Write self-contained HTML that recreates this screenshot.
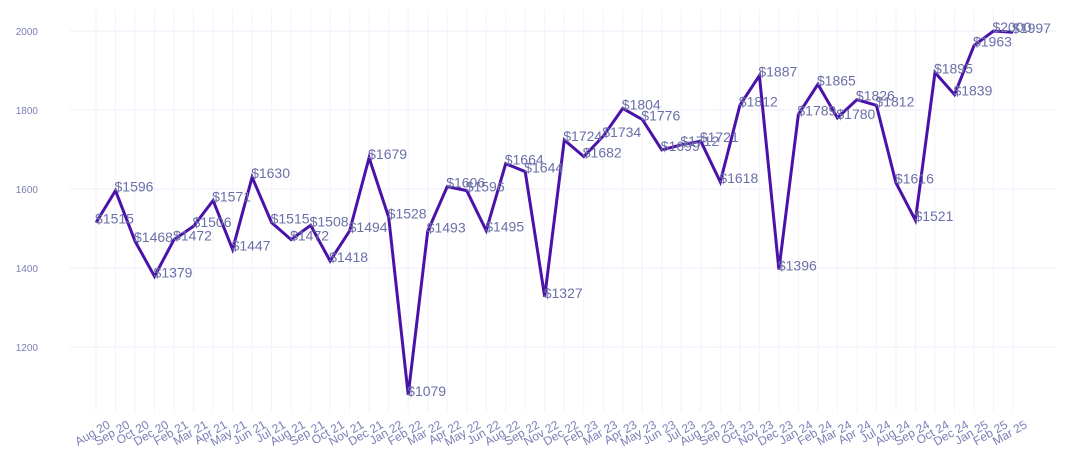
<!DOCTYPE html>
<html><head><meta charset="utf-8"><style>
body{margin:0;background:#fff;}
svg{display:block;font-family:"Liberation Sans",sans-serif;}
</style></head><body>
<svg id="chart" width="1070" height="465" viewBox="0 0 1070 465">
<g id="grid"></g>
<g id="yaxis"></g>
<g id="xaxis"></g>
<g id="series"></g>
</svg>
<script>
const categories=["Aug 20","Sep 20","Oct 20","Dec 20","Feb 21","Mar 21","Apr 21","May 21","Jun 21","Jul 21","Aug 21","Sep 21","Oct 21","Nov 21","Dec 21","Jan 22","Feb 22","Mar 22","Apr 22","May 22","Jun 22","Aug 22","Sep 22","Nov 22","Dec 22","Feb 23","Mar 23","Apr 23","May 23","Jun 23","Jul 23","Aug 23","Sep 23","Oct 23","Nov 23","Dec 23","Jan 24","Feb 24","Mar 24","Apr 24","Jul 24","Aug 24","Sep 24","Oct 24","Dec 24","Jan 25","Feb 25","Mar 25"];
const prices=[1515,1596,1468,1379,1472,1506,1571,1447,1630,1515,1472,1508,1418,1494,1679,1528,1079,1493,1606,1596,1495,1664,1644,1327,1724,1682,1734,1804,1776,1699,1712,1721,1618,1812,1887,1396,1789,1865,1780,1826,1812,1616,1521,1895,1839,1963,2000,1997];
const yTicks=[1200,1400,1600,1800,2000];
const NS="http://www.w3.org/2000/svg";
const x0=96,x1=1013;
function xScale(i){return x0+(x1-x0)*i/(categories.length-1);}
function yScale(v){return 347-(v-1200)*(316/800);}
function mk(tag,attrs,parent){const e=document.createElementNS(NS,tag);for(const k in attrs)e.setAttribute(k,attrs[k]);parent.appendChild(e);return e;}
const grid=document.getElementById('grid'),ya=document.getElementById('yaxis'),xa=document.getElementById('xaxis'),se=document.getElementById('series');
yTicks.forEach(v=>{const y=yScale(v);
 const l=mk('line',{x1:70,x2:1057,y1:y,y2:y,stroke:'#eeeefa','stroke-width':1},grid);
 
 });
categories.forEach((c,i)=>{const x=xScale(i);
 const l=mk('line',{x1:x,x2:x,y1:10,y2:412,stroke:'#f2f2fb','stroke-width':1},grid);
 
 
 const t=mk('text',{x:0,y:0,'font-size':12,fill:'#7b7fb5','text-anchor':'end',transform:`translate(${x+15},${427}) rotate(-30)`},xa);
 t.textContent=c;
 
 });
yTicks.forEach(v=>{const t=mk('text',{x:38,y:yScale(v)+4,'font-size':10,fill:'#7b7fb5','text-anchor':'end'},ya);
 t.textContent=v;
 
 });
const pts=prices.map((v,i)=>xScale(i).toFixed(1)+','+yScale(v).toFixed(1)).join(' ');
const pl=mk('polyline',{points:pts,fill:'none',stroke:'#4a12a8','stroke-width':3,'stroke-linejoin':'miter'},se);


prices.forEach((v,i)=>{const t=mk('text',{x:xScale(i)-1,y:yScale(v)+1,'font-size':14,fill:'#6b6fa8'},se);
 t.textContent='$'+v;
 
 });
</script>
</body></html>
